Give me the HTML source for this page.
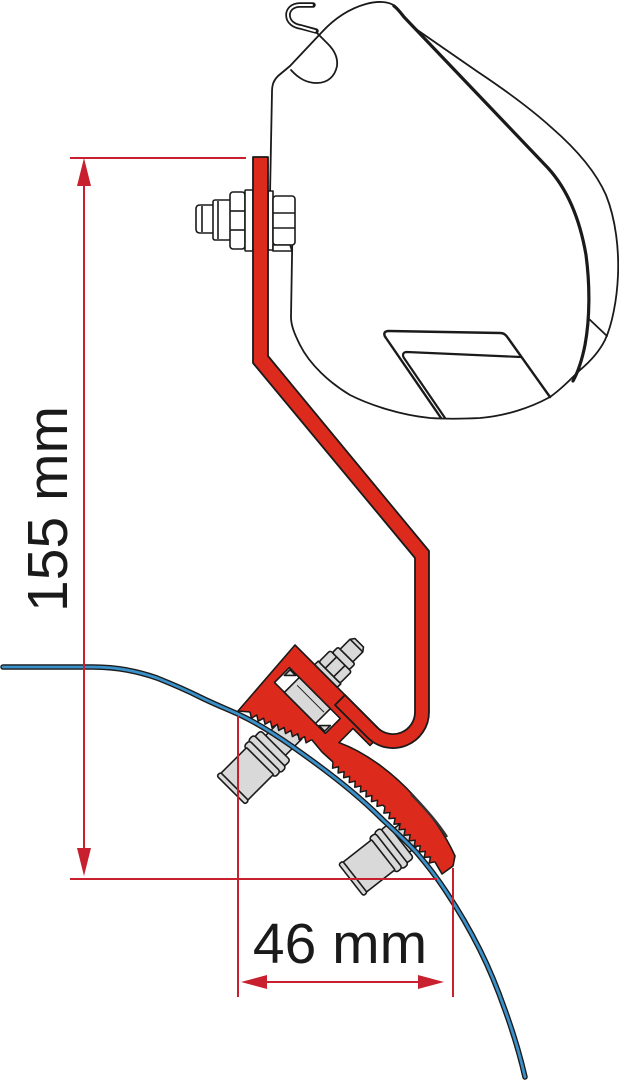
<!DOCTYPE html>
<html><head><meta charset="utf-8"><style>
html,body{margin:0;padding:0;background:#fff;}
svg{display:block;}
</style></head><body>
<svg width="619" height="1080" viewBox="0 0 619 1080" xmlns="http://www.w3.org/2000/svg">
<rect width="619" height="1080" fill="#fff"/>

<!-- Housing -->
<g fill="none" stroke="#1a1a1a" stroke-linecap="round" stroke-linejoin="round">
  <path d="M270,195 L272,92 C272,84 274,80 278,76 L290,66 L322,32 C334,19 348,9 366,4 C377,1 388,1 395,6" stroke-width="1.8"/>
  <path d="M394,6 C398,9 400,12 404,17 L548,168 C568,190 580,220 586,255 C590,285 590,318 585,345 C582,360 578,372 573,381" stroke-width="3.2"/>
  <path d="M413,27 L478,72 C505,90 530,108 552,128 C575,148 595,170 606,195 C616,220 619,250 618,275 C617,300 612,325 605,340 C600,350 592,360 580,370 C570,380 560,390 550,397" stroke-width="1.8"/>
  <path d="M588,318 L607,336" stroke-width="1.8"/>
  <path d="M550,397 C530,408 505,416 480,418 C460,419 445,419 430,418 C400,415 370,405 350,395 C330,383 310,365 300,345 C294,333 291,325 291,317 L293,197" stroke-width="1.8"/>
  <path d="M441,418 L386,338 C383,334 384,331 389,331 L500,333 C504,333 506,335 508,338 L550,397" stroke-width="2.4"/>
  <path d="M445,418 L404,358 C402,355 403,352 407,352 L521,357" stroke-width="2.2"/>
  <!-- slot -->
  <path d="M315,31 L328,44 C335,51 338,58 337,66 C335,76 328,83 317,83 C307,83 299,79 291,70" stroke-width="1.8"/>
  <!-- hook -->
  <path d="M313,5 L300,5 C292,5 288,10 288,15 C288,22 294,26 301,27 L316,31" stroke-width="5.5"/>
  <path d="M312,5 L300,5 C292,5 288,10 288,15 C288,22 294,26 301,27 L315,31" stroke="#fff" stroke-width="2"/>
</g>

<!-- Upper bolt assembly (white) -->
<g fill="#fff" stroke="#1a1a1a" stroke-width="1.6" stroke-linejoin="round">
  <path d="M214,205 L200,205 Q196,205 196,209 L196,229 Q196,233 200,233 L214,233 Z"/>
  <line x1="202" y1="206" x2="202" y2="232"/>
  <rect x="213" y="200" width="18" height="40" rx="2"/>
  <line x1="218" y1="201" x2="218" y2="239"/>
  <rect x="230" y="192" width="15" height="57" rx="3"/>
  <line x1="230" y1="211" x2="245" y2="211"/>
  <line x1="230" y1="230" x2="245" y2="230"/>
  <rect x="245" y="190" width="8" height="61" rx="1"/>
  <rect x="268" y="191" width="5" height="59"/>
  <rect x="273" y="196" width="22" height="49" rx="3"/>
  <line x1="273" y1="213" x2="295" y2="213"/>
  <line x1="273" y1="228" x2="295" y2="228"/>
  <path d="M273,245 L290,245 L292,251 L273,251 Z"/>
</g>

<!-- Lower bolts (gray) -->
<g fill="#d9d9d9" stroke="#1a1a1a" stroke-width="1.6" stroke-linejoin="round">
  <g transform="translate(231,790) rotate(-45)">
    <rect x="60" y="-14" width="26" height="28"/>
    <rect x="54" y="-21" width="9" height="42" rx="3"/>
    <rect x="47" y="-23" width="8" height="46" rx="3"/>
    <rect x="40" y="-22" width="8" height="44" rx="3"/>
    <rect x="4" y="-19" width="37" height="38" rx="1"/>
    <rect x="0" y="-20" width="5" height="40" rx="2"/>
  </g>
  <g transform="translate(351,880) rotate(-38)">
    <rect x="60" y="-14" width="26" height="28"/>
    <rect x="54" y="-21" width="9" height="42" rx="3"/>
    <rect x="47" y="-23" width="8" height="46" rx="3"/>
    <rect x="40" y="-22" width="8" height="44" rx="3"/>
    <rect x="4" y="-19" width="37" height="38" rx="1"/>
    <rect x="0" y="-20" width="5" height="40" rx="2"/>
  </g>
</g>

<!-- Roof (blue) -->
<path d="M3,667 L93,667 C118,667 140,672 157,678 C172,684 186,690 200,697 C214,704 227,709 240,715 C259,724 276,735 293,747 C313,761 332,775 350,790 C362,800 373,810 383,820 C395,831 407,842 417,853 C428,866 438,879 447,893 C459,911 471,932 480,950 C490,970 498,990 505,1010 C513,1032 520,1055 525,1077" fill="none" stroke="#1a1a1a" stroke-width="5.5" stroke-linecap="round" stroke-linejoin="round"/>
<path d="M3,667 L93,667 C118,667 140,672 157,678 C172,684 186,690 200,697 C214,704 227,709 240,715 C259,724 276,735 293,747 C313,761 332,775 350,790 C362,800 373,810 383,820 C395,831 407,842 417,853 C428,866 438,879 447,893 C459,911 471,932 480,950 C490,970 498,990 505,1010 C513,1032 520,1055 525,1077" fill="none" stroke="#3a91c9" stroke-width="2.8" stroke-linecap="round" stroke-linejoin="round"/>

<!-- Clamp body (red) -->
<path d="M295,645 L382.7,732.7 L370,745.4 L353,728.4 L339,742.6 C365,752 392,772 414,796 C430,813 445,834 455,856 L453,866 L442,874 L435,862 L385,807 L333,762 L322,752 L312,740 L250,712 L238,711 Z" fill="#dc2a1c" stroke="#1a1a1a" stroke-width="1.6" stroke-linejoin="round"/>
<path d="M411,794 C426,809 438,823 447,837" fill="none" stroke="#333" stroke-width="2.5"/>

<!-- Teeth -->
<g fill="#dc2a1c" stroke="none">
  <g transform="translate(250,712) rotate(24.3)"><polygon points="0,-3 0,0 3.75,5 7.5,0 11.25,5 15,0 18.75,5 22.5,0 26.25,5 30,0 33.75,5 37.5,0 41.25,5 45,0 48.75,5 52.5,0 56.25,5 60,0 63.75,5 67.5,0 67.5,-3"/></g>
  <g transform="translate(333,762) rotate(40.7)"><polygon points="0,-3 0,0 3.7,5 7.3,0 11,5 14.7,0 18.3,5 22,0 25.7,5 29.3,0 33,5 36.7,0 40.3,5 44,0 47.7,5 51.3,0 55,5 58.7,0 62.3,5 66,0 66,-3"/></g>
  <g transform="translate(385,807) rotate(47.7)"><polygon points="0,-3 0,0 3.75,5 7.5,0 11.25,5 15,0 18.75,5 22.5,0 26.25,5 30,0 33.75,5 37.5,0 41.25,5 45,0 48.75,5 52.5,0 56.25,5 60,0 63.75,5 67.5,0 71.25,5 74,0 74,-3"/></g>
</g>
<g fill="none" stroke="#1a1a1a" stroke-width="1.5" stroke-linejoin="round">
  <g transform="translate(250,712) rotate(24.3)"><polyline points="0,0 3.75,5 7.5,0 11.25,5 15,0 18.75,5 22.5,0 26.25,5 30,0 33.75,5 37.5,0 41.25,5 45,0 48.75,5 52.5,0 56.25,5 60,0 63.75,5 67.5,0"/></g>
  <g transform="translate(333,762) rotate(40.7)"><polyline points="0,0 3.7,5 7.3,0 11,5 14.7,0 18.3,5 22,0 25.7,5 29.3,0 33,5 36.7,0 40.3,5 44,0 47.7,5 51.3,0 55,5 58.7,0 62.3,5 66,0"/></g>
  <g transform="translate(385,807) rotate(47.7)"><polyline points="0,0 3.75,5 7.5,0 11.25,5 15,0 18.75,5 22.5,0 26.25,5 30,0 33.75,5 37.5,0 41.25,5 45,0 48.75,5 52.5,0 56.25,5 60,0 63.75,5 67.5,0 71.25,5 74,0"/></g>
</g>

<!-- Window in clamp plate -->
<g transform="translate(295,645) rotate(45)" stroke="#1a1a1a" stroke-width="1.6" stroke-linejoin="round">
  <rect x="12" y="20" width="72" height="21" fill="#fff"/>
  <rect x="26" y="20" width="44" height="21" fill="#d9d9d9"/>
  <polygon points="14,21 22,21 14,29" fill="#d9d9d9"/>
  <polygon points="74,40 82,40 82,32" fill="#d9d9d9"/>
  <line x1="30" y1="27" x2="68" y2="27" stroke-width="1"/>
</g>

<!-- Bolt on clamp plate (gray) -->
<g transform="translate(326,676) rotate(45)" fill="#d9d9d9" stroke="#1a1a1a" stroke-width="1.6" stroke-linejoin="round">
  <rect x="-16" y="-5" width="32" height="5"/>
  <rect x="-15" y="-21" width="30" height="16" rx="2"/>
  <line x1="-6" y1="-21" x2="-6" y2="-5"/>
  <line x1="6" y1="-21" x2="6" y2="-5"/>
  <rect x="-12" y="-29" width="24" height="8" rx="2"/>
  <path d="M-9,-29 L-9,-43 L-6,-47 L6,-47 L9,-43 L9,-29 Z"/>
  <line x1="-9" y1="-43" x2="9" y2="-43"/>
</g>

<!-- Red bracket -->
<path d="M253,157 L268,157 L268,356 L429,551 L429,712 A36,36 0 0 1 367.5,737.5 L335,705 L345,695 L377.4,727.6 A22,22 0 0 0 415,712 L415,558 L253,363 Z" fill="#dc2a1c" stroke="#1a1a1a" stroke-width="1.8" stroke-linejoin="round"/>

<!-- Dimension lines -->
<g stroke="#c8202e" stroke-width="2" fill="none">
  <line x1="70" y1="158" x2="246" y2="158"/>
  <line x1="70" y1="879" x2="437" y2="879"/>
  <line x1="84" y1="170" x2="84" y2="866"/>
  <line x1="238" y1="716" x2="238" y2="997"/>
  <line x1="453" y1="868" x2="453" y2="997"/>
  <line x1="252" y1="982" x2="432" y2="982"/>
</g>
<g fill="#c8202e">
  <polygon points="84,158 77,186 91,186"/>
  <polygon points="84,876 77,848 91,848"/>
  <polygon points="241,982 267,975 267,989"/>
  <polygon points="444,982 418,975 418,989"/>
</g>

<!-- Labels -->
<text x="340" y="963" font-family="'Liberation Sans', Arial, sans-serif" font-size="57" fill="#1a1a1a" text-anchor="middle">46 mm</text>
<text transform="translate(67,509) rotate(-90)" x="0" y="0" font-family="'Liberation Sans', Arial, sans-serif" font-size="57" fill="#1a1a1a" text-anchor="middle">155 mm</text>
</svg>
</body></html>
